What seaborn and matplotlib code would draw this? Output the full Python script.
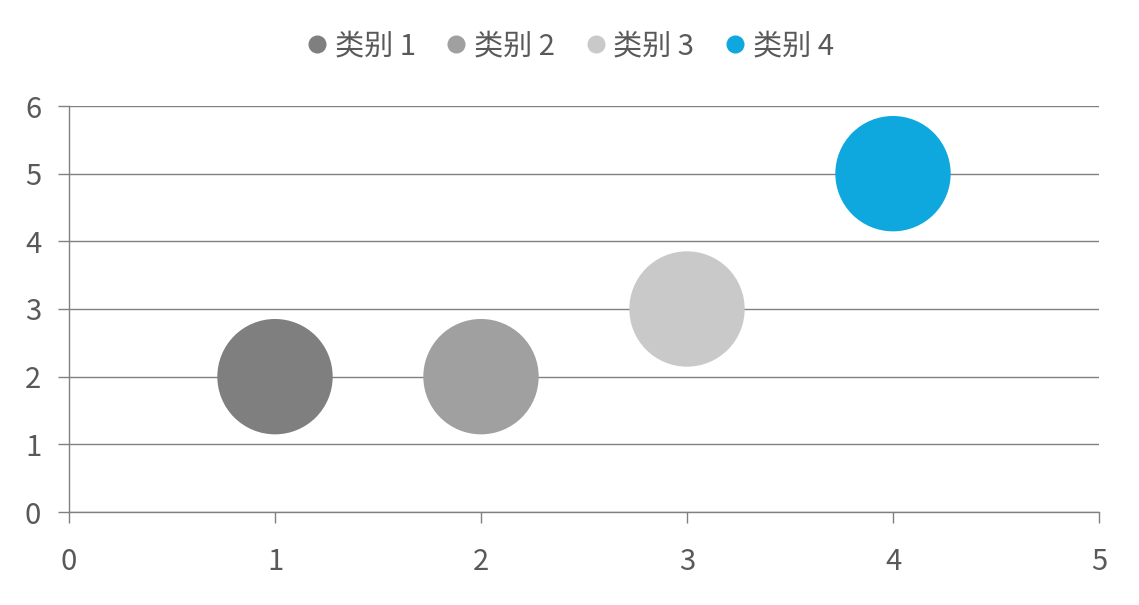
import matplotlib
matplotlib.use("Agg")
import matplotlib.pyplot as plt
from matplotlib.lines import Line2D
import seaborn as sns
import pandas as pd

categories = ["类别 1", "类别 2", "类别 3", "类别 4"]
x_values = [1, 2, 3, 4]
y_values = [2, 2, 3, 5]
colors = ["#7F7F7F", "#A0A0A0", "#C9C9C9", "#0EA8DF"]
x_ticks = [0, 1, 2, 3, 4, 5]
y_ticks = [0, 1, 2, 3, 4, 5, 6]

sns.set_style("white")
plt.rcParams['font.family'] = ['Noto Sans CJK SC', 'DejaVu Sans']

df = pd.DataFrame({"x": x_values, "y": y_values, "cat": categories})

fig = plt.figure(figsize=(11.39, 6.05), dpi=100)
ax = fig.add_axes([69/1139, 1 - 512/605, (1099-69)/1139, (512-106)/605])

ax.set_axisbelow(True)
ax.grid(axis="y", color="#808080", linewidth=1.0)
sns.scatterplot(data=df, x="x", y="y", hue="cat", palette=colors, s=6900,
                edgecolor="none", linewidth=0, legend=False, ax=ax, zorder=3)

ax.set_xlim(0, 5)
ax.set_ylim(0, 6)
ax.set_xticks(x_ticks)
ax.set_yticks(y_ticks)
ax.set_xlabel("")
ax.set_ylabel("")
for s in ["top", "right"]:
    ax.spines[s].set_visible(False)
for s in ["left", "bottom"]:
    ax.spines[s].set_color("#808080")
    ax.spines[s].set_linewidth(1.0)
ax.tick_params(axis="both", colors="#808080", labelcolor="#595959", labelsize=21,
               length=8, width=1.0, direction="out", bottom=True, left=True)
ax.tick_params(axis="x", pad=17)
ax.tick_params(axis="y", pad=12)

handles = [Line2D([0], [0], marker="o", linestyle="none", markersize=13,
                  markerfacecolor=c, markeredgecolor="none") for c in colors]
fig.legend(handles, categories, loc="center", bbox_to_anchor=(0.5, 1 - 46/605),
           ncol=4, frameon=False, fontsize=21, labelcolor="#595959",
           handletextpad=0.2, columnspacing=1.0, handlelength=0.8)

fig.savefig("out.png", dpi=100)
